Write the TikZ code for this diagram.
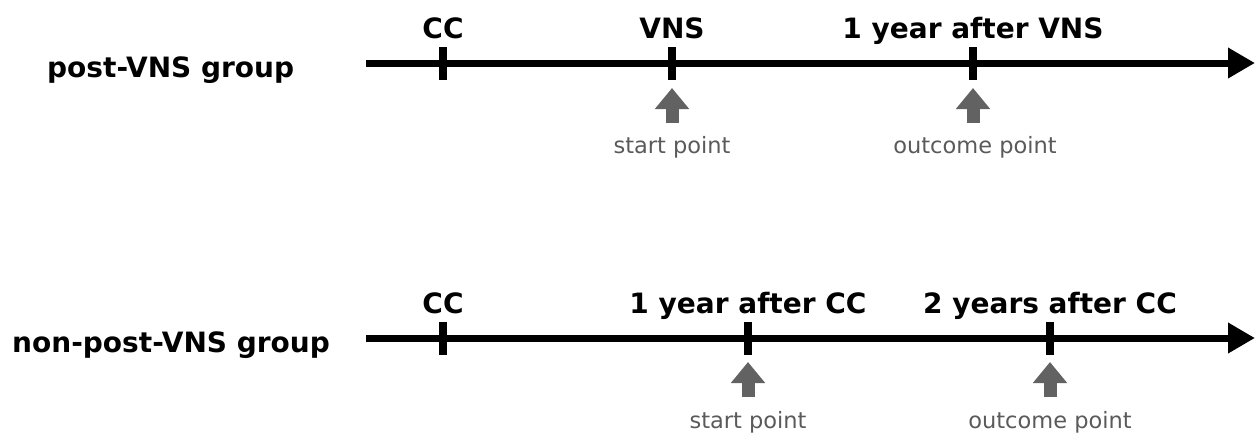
\documentclass[tikz,border=0pt]{standalone}
\usepackage{fontspec}
\setmainfont{DejaVu Sans}
\usetikzlibrary{arrows.meta}
\definecolor{ptgray}{HTML}{626262}
\definecolor{txgray}{HTML}{5A5A5A}
\tikzset{
  timeline/.style={line width=7pt, -{Triangle[length=27pt,width=29pt]}},
  tickmark/.style={line width=7.5pt},
  ticklabel/.style={font=\bfseries\fontsize{28}{32}\selectfont, anchor=base, inner sep=0pt},
  grouplabel/.style={font=\bfseries\fontsize{28}{32}\selectfont, anchor=base west, inner sep=0pt},
  pointer/.style={ptgray, line width=13pt, -{Triangle[length=21pt,width=33pt]}},
  pointlabel/.style={txgray, font=\fontsize{22.5}{26}\selectfont, anchor=base, inner sep=0pt}
}
\begin{document}
\begin{tikzpicture}[x=1pt,y=-1pt]
\useasboundingbox (0,0) rectangle (1256,432);
% ---------- post-VNS group ----------
\node[grouplabel] (g1) at (47,77) {post-VNS group};
\coordinate (s1) at (366,63);
\coordinate (e1) at (1255,63);
\draw[timeline] (s1) -- (e1);
\foreach \x/\n in {443/a, 672/b, 973/c}{
  \coordinate (t1\n top) at (\x,47);
  \coordinate (t1\n bot) at (\x,80);
  \draw[tickmark] (t1\n top) -- (t1\n bot);
}
\node[ticklabel] (l1a) at (443,38) {CC};
\node[ticklabel] (l1b) at (672,38) {VNS};
\node[ticklabel] (l1c) at (973,38) {1 year after VNS};
\coordinate (p1b from) at (672,123);
\coordinate (p1b to) at (672,88);
\coordinate (p1c from) at (973,123);
\coordinate (p1c to) at (973,88);
\draw[pointer] (p1b from) -- (p1b to);
\draw[pointer] (p1c from) -- (p1c to);
\node[pointlabel] (sp1) at (672,153) {start point};
\node[pointlabel] (op1) at (975,153) {outcome point};
% ---------- non-post-VNS group ----------
\node[grouplabel] (g2) at (12,352) {non-post-VNS group};
\coordinate (s2) at (366,338);
\coordinate (e2) at (1255,338);
\draw[timeline] (s2) -- (e2);
\foreach \x/\n in {443/a, 748/b, 1050/c}{
  \coordinate (t2\n top) at (\x,322);
  \coordinate (t2\n bot) at (\x,355);
  \draw[tickmark] (t2\n top) -- (t2\n bot);
}
\node[ticklabel] (l2a) at (443,313) {CC};
\node[ticklabel] (l2b) at (748,313) {1 year after CC};
\node[ticklabel] (l2c) at (1050,313) {2 years after CC};
\coordinate (p2b from) at (748,397);
\coordinate (p2b to) at (748,362);
\coordinate (p2c from) at (1050,397);
\coordinate (p2c to) at (1050,362);
\draw[pointer] (p2b from) -- (p2b to);
\draw[pointer] (p2c from) -- (p2c to);
\node[pointlabel] (sp2) at (748,428) {start point};
\node[pointlabel] (op2) at (1050,428) {outcome point};
\end{tikzpicture}
\end{document}
